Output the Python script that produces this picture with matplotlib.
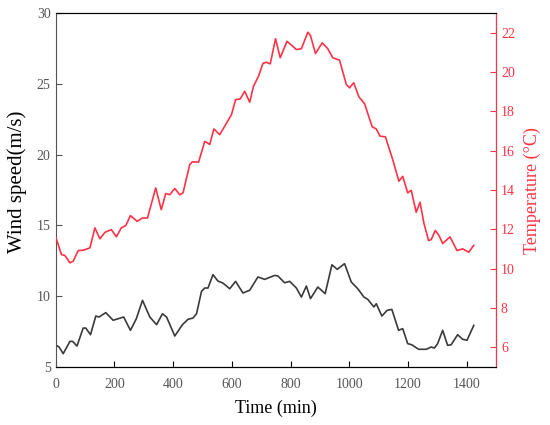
import numpy as np
import matplotlib
matplotlib.use("Agg")
import matplotlib.pyplot as plt

plt.rcParams['font.family'] = ['Liberation Serif', 'DejaVu Serif']

# ------------------- DATA -------------------
temp_time = [1, 20, 32, 49, 60, 77, 94, 117, 134, 151, 168, 190, 207, 224, 239, 255,
             278, 296, 313, 341, 360, 375, 389, 406, 423, 434, 457, 466, 487, 508,
             525, 539, 559, 576, 599, 613, 629, 644, 661, 674, 691, 706, 718, 731,
             749, 765, 788, 805, 820, 837, 859, 868, 885, 908, 927, 944, 967, 990,
             1001, 1015, 1033, 1052, 1078, 1092, 1105, 1123, 1148, 1169, 1182, 1199,
             1211, 1228, 1241, 1254, 1270, 1279, 1293, 1307, 1318, 1343, 1367, 1386,
             1407, 1424]
temperature = [11.6, 10.72, 10.67, 10.30, 10.38, 10.92, 10.94, 11.06, 12.08, 11.52,
               11.85, 11.99, 11.62, 12.08, 12.19, 12.70, 12.41, 12.58, 12.58, 14.11,
               13.0, 13.82, 13.77, 14.08, 13.76, 13.86, 15.3, 15.44, 15.42, 16.48,
               16.32, 17.11, 16.82, 17.25, 17.84, 18.6, 18.64, 19.03, 18.47, 19.28,
               19.79, 20.44, 20.5, 20.42, 21.7, 20.73, 21.57, 21.35, 21.15, 21.19,
               22.03, 21.86, 20.95, 21.49, 21.19, 20.73, 20.61, 19.37, 19.2, 19.46,
               18.74, 18.4, 17.22, 17.11, 16.74, 16.71, 15.55, 14.45, 14.70, 13.86,
               13.99, 12.87, 13.38, 12.33, 11.43, 11.48, 11.95, 11.65, 11.28, 11.62,
               10.92, 11.01, 10.84, 11.19]

wind_time = [0, 12, 26, 49, 58, 73, 94, 103, 119, 137, 148, 171, 196, 213, 232, 255,
             275, 296, 321, 344, 364, 378, 406, 432, 451, 468, 480, 497, 508, 519,
             536, 553, 570, 593, 613, 638, 661, 689, 712, 746, 757, 780, 797, 820,
             837, 854, 868, 893, 918, 941, 959, 984, 1007, 1029, 1050, 1063, 1084,
             1092, 1111, 1129, 1145, 1168, 1182, 1199, 1213, 1236, 1262, 1279, 1290,
             1301, 1318, 1335, 1347, 1369, 1386, 1401, 1424]
wind_speed = [6.57, 6.41, 5.94, 6.81, 6.81, 6.48, 7.75, 7.75, 7.28, 8.60, 8.53, 8.84,
              8.30, 8.41, 8.53, 7.59, 8.41, 9.71, 8.53, 7.99, 8.76, 8.53, 7.19, 7.99,
              8.37, 8.46, 8.76, 10.35, 10.58, 10.58, 11.52, 11.07, 10.93, 10.53, 11.05,
              10.23, 10.42, 11.36, 11.19, 11.47, 11.43, 10.95, 11.05, 10.58, 9.94,
              10.72, 9.83, 10.65, 10.18, 12.22, 11.90, 12.30, 11.00, 10.53, 9.94, 9.78,
              9.24, 9.47, 8.60, 9.00, 9.07, 7.59, 7.71, 6.65, 6.57, 6.25, 6.25, 6.41,
              6.34, 6.65, 7.59, 6.53, 6.57, 7.28, 6.96, 6.89, 7.94]

x_ticks = [0, 200, 400, 600, 800, 1000, 1200, 1400]
wind_ticks = [5, 10, 15, 20, 25, 30]
temp_ticks = [6, 8, 10, 12, 14, 16, 18, 20, 22]

red = '#ff3346'
grey = '#555555'

# ------------------- PLOT -------------------
fig = plt.figure(figsize=(5.5, 4.25), dpi=100)
ax = fig.add_axes([0.101, 0.1365, 0.801, 0.8325])
ax2 = ax.twinx()

ax.plot(wind_time, wind_speed, color='#3a3a3a', lw=1.2)
ax2.plot(temp_time, temperature, color=red, lw=1.2)

ax.set_xlim(0, 1500)
ax.set_ylim(5, 30)
ax2.set_ylim(5, 23)
ax.set_xticks(x_ticks)
ax.set_yticks(wind_ticks)
ax2.set_yticks(temp_ticks)

ax.tick_params(axis='both', direction='in', labelsize=10, colors=grey, length=4)
ax.tick_params(axis='x', colors='black', labelcolor=grey, pad=8)
ax2.tick_params(axis='y', direction='in', labelsize=10, colors=red, length=4)

ax.spines['left'].set_color(grey)
ax.spines['top'].set_color('black')
ax2.spines['right'].set_color(red)
ax2.spines['left'].set_visible(False)

ax.set_xlabel('Time (min)', fontsize=13, color='black', labelpad=6)
ax.set_ylabel('Wind speed(m/s)', fontsize=15, color='black')
ax.yaxis.set_label_coords(-0.064, 0.523)
ax2.set_ylabel('Temperature (°C)', fontsize=13, color=red, labelpad=6)

fig.savefig('out.png', dpi=100)
